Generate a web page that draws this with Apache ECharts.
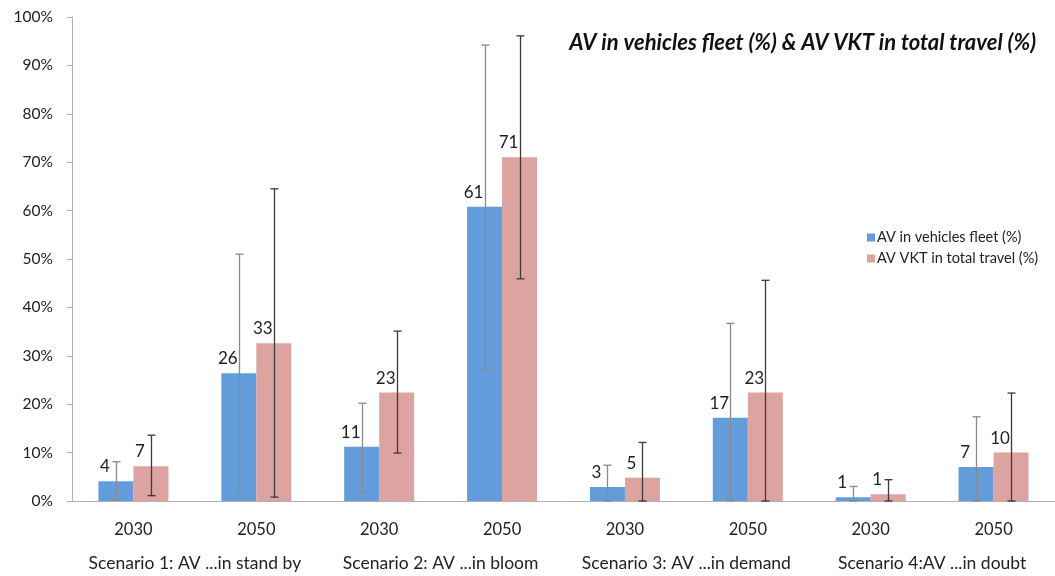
<!DOCTYPE html>
<html>
<head>
<meta charset="utf-8">
<script src="https://cdn.jsdelivr.net/npm/echarts@6/dist/echarts.min.js"></script>
<style>
  html, body { margin: 0; padding: 0; background: #fff; }
  #main { width: 1055px; height: 576px; }
</style>
</head>
<body>
<div id="main"></div>
<script>
// data
const years = ['2030', '2050', '2030', '2050', '2030', '2050', '2030', '2050'];
const scenarios = ['Scenario 1: AV ...in stand by', 'Scenario 2: AV ...in bloom', 'Scenario 3: AV ...in demand', 'Scenario 4:AV ...in doubt'];
const yTicks = [0, 100, 10];

const fleet = [4.1, 26.4, 11.2, 60.8, 2.9, 17.2, 0.8, 7.0];
const fleetLabels = ['4', '26', '11', '61', '3', '17', '1', '7'];
const fleetLow = [0.2, 1.8, 1.9, 27.4, 0, 0, 0, 0];
const fleetHigh = [8.1, 51, 20.2, 94.2, 7.4, 36.7, 3.0, 17.4];

const vkt = [7.2, 32.6, 22.4, 71, 4.8, 22.4, 1.4, 10.0];
const vktLabels = ['7', '33', '23', '71', '5', '23', '1', '10'];
const vktLow = [1.1, 0.8, 9.9, 45.9, 0, 0, 0, 0];
const vktHigh = [13.6, 64.5, 35.1, 96.1, 12.1, 45.6, 4.4, 22.3];

const fontFam = 'Lato, "Open Sans", sans-serif';
const chart = echarts.init(document.getElementById('main'));

const BAR_W = 35;

// error bar drawer
function errorSeries(name, low, high, shift, color) {
  return {
    type: 'custom',
    name: name,
    xAxisIndex: 0,
    z: 10,
    silent: true,
    data: low.map((l, i) => [i, l, high[i]]),
    renderItem: function (params, api) {
      const lo = api.coord([api.value(0), api.value(1)]);
      const hi = api.coord([api.value(0), api.value(2)]);
      const x = Math.round(lo[0] + shift) + 0.5;
      const cap = 4;
      const st = { stroke: color, lineWidth: 1.3 };
      return {
        type: 'group',
        children: [
          { type: 'line', shape: { x1: x, y1: lo[1], x2: x, y2: hi[1] }, style: st },
          { type: 'line', shape: { x1: x - cap, y1: hi[1], x2: x + cap, y2: hi[1] }, style: st },
          { type: 'line', shape: { x1: x - cap, y1: lo[1], x2: x + cap, y2: lo[1] }, style: st }
        ]
      };
    }
  };
}

const option = {
  animation: false,
  backgroundColor: '#fff',
  title: {
    text: 'AV in vehicles fleet (%) & AV VKT in total travel (%)',
    right: 14,
    top: 27,
    textStyle: { fontFamily: fontFam, fontSize: 22, fontWeight: 'bold', fontStyle: 'italic', color: '#111' }
  },
  legend: {
    orient: 'vertical',
    left: 862,
    top: 225,
    itemWidth: 8,
    itemHeight: 8,
    itemGap: 6,
    icon: 'rect',
    data: ['AV in vehicles fleet (%)', 'AV VKT in total travel (%)'],
    textStyle: { fontFamily: fontFam, fontSize: 14.5, color: '#222', padding: [0, 0, 0, -3] }
  },
  grid: { left: 72, right: 0, top: 17, bottom: 75 },
  xAxis: [
    {
      type: 'category',
      data: years,
      axisLine: { lineStyle: { color: '#b0b0b0' } },
      axisTick: { length: 37, interval: 0, lineStyle: { color: '#b0b0b0' } },
      axisLabel: { interval: 0, margin: 20, fontFamily: fontFam, fontSize: 16.5, color: '#222' }
    },
    {
      type: 'category',
      data: scenarios,
      position: 'bottom',
      axisLine: { show: false },
      axisTick: { length: 75, interval: 0, lineStyle: { color: '#b0b0b0' } },
      axisLabel: { interval: 0, hideOverlap: false, margin: 53, fontFamily: fontFam, fontSize: 17.5, color: '#222' }
    }
  ],
  yAxis: {
    type: 'value',
    min: yTicks[0],
    max: yTicks[1],
    interval: yTicks[2],
    axisLine: { show: true, lineStyle: { color: '#b0b0b0' } },
    axisTick: { show: true, length: 5, lineStyle: { color: '#b0b0b0' } },
    splitLine: { show: false },
    axisLabel: { formatter: '{value}%', margin: 19, fontFamily: fontFam, fontSize: 15.5, color: '#222' }
  },
  series: [
    {
      name: 'AV in vehicles fleet (%)',
      type: 'bar',
      barWidth: BAR_W,
      barGap: 0,
      data: fleet,
      itemStyle: { color: '#639cdb' },
      label: {
        show: true,
        position: 'top',
        offset: [-11, -1],
        formatter: p => fleetLabels[p.dataIndex],
        fontFamily: fontFam, fontSize: 17, color: '#222'
      }
    },
    {
      name: 'AV VKT in total travel (%)',
      type: 'bar',
      barWidth: BAR_W,
      barGap: 0,
      data: vkt,
      itemStyle: { color: '#dda3a1' },
      label: {
        show: true,
        position: 'top',
        offset: [-11, -1],
        formatter: p => vktLabels[p.dataIndex],
        fontFamily: fontFam, fontSize: 17, color: '#222'
      }
    },
    errorSeries('fleetErr', fleetLow, fleetHigh, -BAR_W / 2, '#8a8a8a'),
    errorSeries('vktErr', vktLow, vktHigh, BAR_W / 2, '#3a3a3a')
  ]
};

chart.setOption(option);
</script>
</body>
</html>
